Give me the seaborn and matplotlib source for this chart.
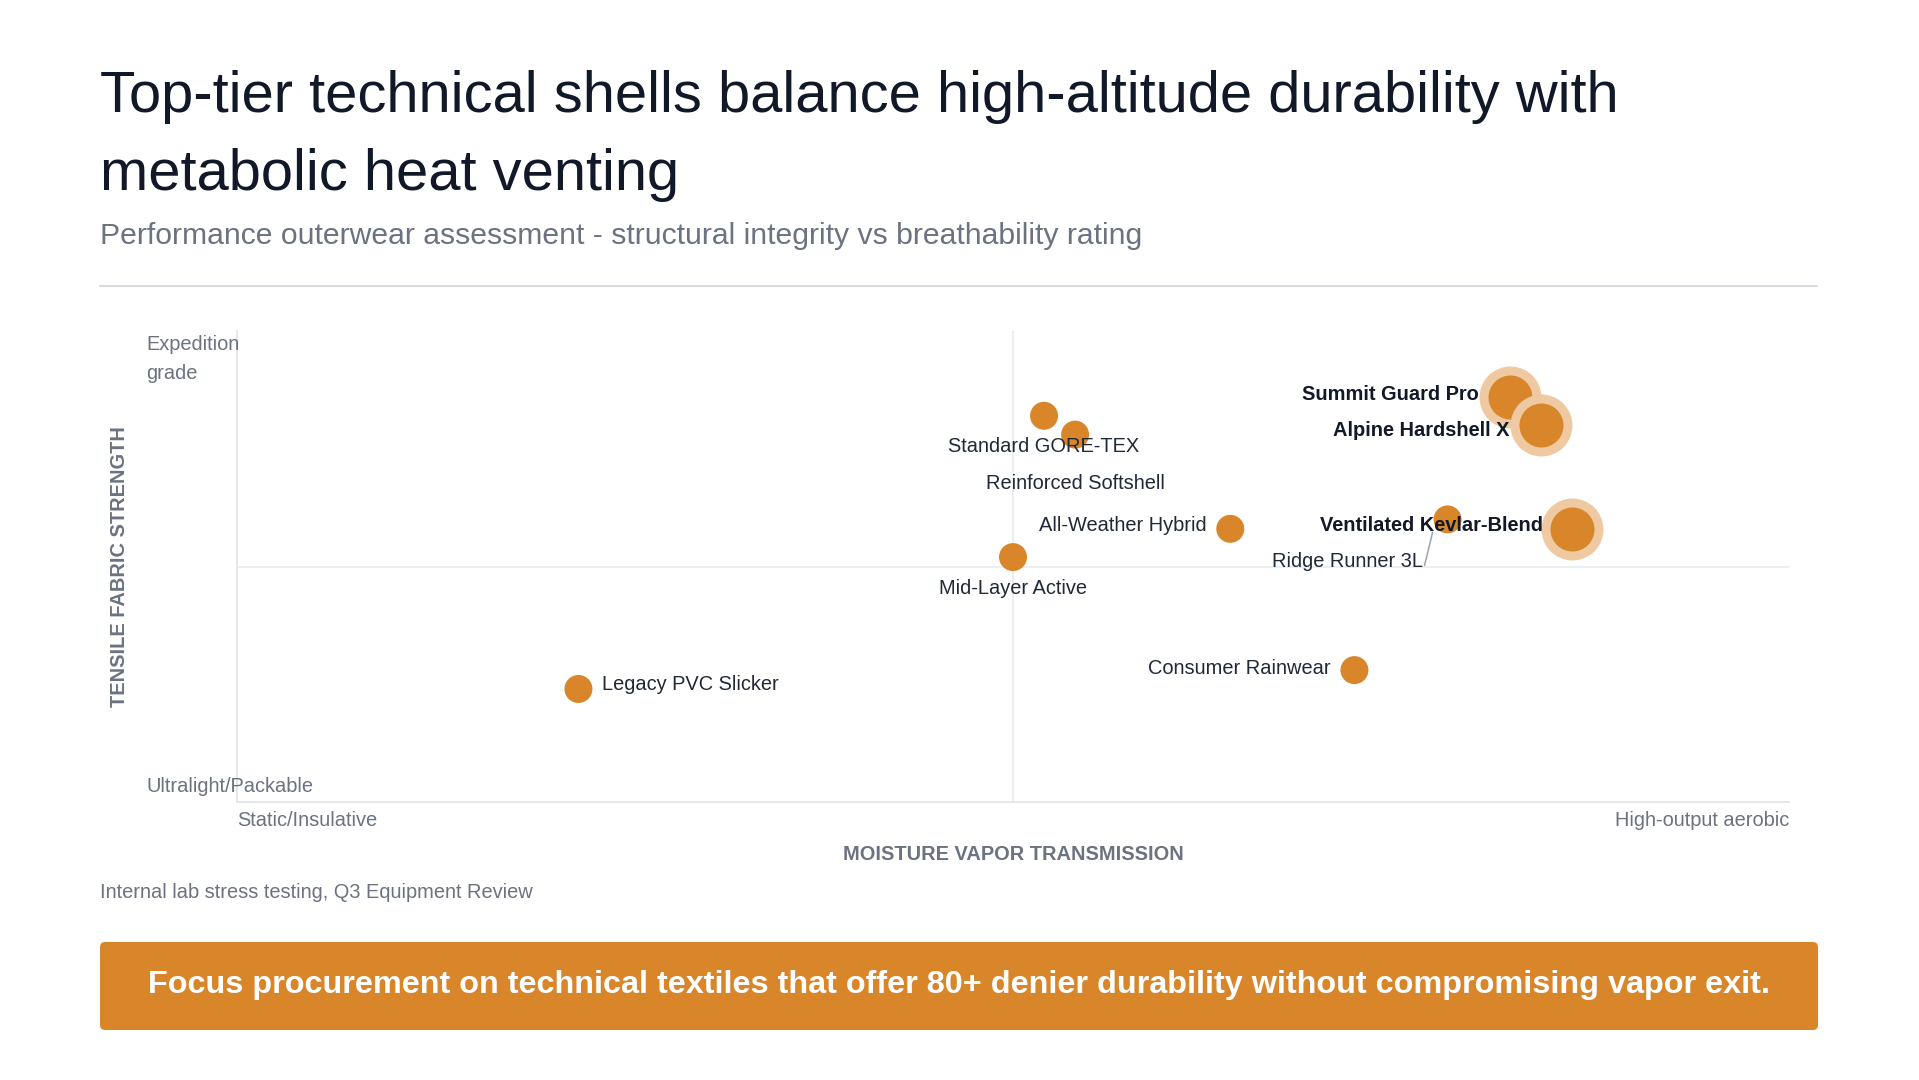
import textwrap
import numpy as np
import pandas as pd
import matplotlib
matplotlib.use("Agg")
import matplotlib.pyplot as plt
import matplotlib.transforms as mtrans
from matplotlib.patches import FancyBboxPatch
from matplotlib.lines import Line2D
from matplotlib.text import OffsetFrom
import seaborn as sns

# ---------------- data ----------------
title = "Top-tier technical shells balance high-altitude durability with metabolic heat venting"
subtitle = "Performance outerwear assessment - structural integrity vs breathability rating"
source = "Internal lab stress testing, Q3 Equipment Review"
takeaway = "Focus procurement on technical textiles that offer 80+ denier durability without compromising vapor exit."
x_title = "MOISTURE VAPOR TRANSMISSION"
y_title = "TENSILE FABRIC STRENGTH"
x_tick_labels = ["Static/Insulative", "High-output aerobic"]
y_tick_labels = ["Ultralight/Packable", "Expedition grade"]

products = ["Summit Guard Pro", "Alpine Hardshell X", "Ventilated Kevlar-Blend",
            "Ridge Runner 3L", "All-Weather Hybrid", "Standard GORE-TEX",
            "Reinforced Softshell", "Mid-Layer Active", "Consumer Rainwear",
            "Legacy PVC Slicker"]
breathability = [82, 84, 86, 78, 64, 52, 54, 50, 72, 22]
strength = [86, 80, 58, 60, 58, 82, 78, 52, 28, 24]
featured = [True, True, True, False, False, False, False, False, False, False]

# ---------------- style ----------------
ORANGE = "#D9862B"
HALO = "#EEC9A1"
DARK = "#111827"
LABEL = "#1F2937"
GRAY = "#6B7280"
GRID = "#ECEEF1"
SPINE = "#E5E7EB"
PX = 0.72  # points per pixel at dpi 100

# label placement: (dx px, dy px, ha)
label_layout = {
    "Summit Guard Pro": (-31, 2, "right"),
    "Alpine Hardshell X": (-31, -5, "right"),
    "Ventilated Kevlar-Blend": (-29, 3, "right"),
    "Ridge Runner 3L": (-25, -42, "right"),
    "All-Weather Hybrid": (-24, 3, "right"),
    "Standard GORE-TEX": (0, -31, "center"),
    "Reinforced Softshell": (0, -49, "center"),
    "Mid-Layer Active": (0, -31, "center"),
    "Consumer Rainwear": (-24, 2, "right"),
    "Legacy PVC Slicker": (24, 4, "left"),
}

df = pd.DataFrame({"product": products, "breathability": breathability,
                   "strength": strength, "featured": featured})
df["tier"] = np.where(df["featured"], "Featured", "Standard")

sns.set_theme(style="white")
plt.rcParams["font.family"] = ["Liberation Sans", "DejaVu Sans"]

W, H = 1919, 1080
fig = plt.figure(figsize=(W / 100, H / 100), dpi=100)
fig.patch.set_facecolor("white")

ax_l, ax_r, ax_t, ax_b = 237, 1789, 331, 802
ax = fig.add_axes([ax_l / W, 1 - ax_b / H, (ax_r - ax_l) / W, (ax_b - ax_t) / H])
ax.set_xlim(0, 100)
ax.set_ylim(0, 100)

# quadrant midlines
ax.axvline(50, color=GRID, lw=1.5, zorder=0)
ax.axhline(50, color=GRID, lw=1.5, zorder=0)

# standard points
std = df[~df["featured"]]
sns.scatterplot(data=std, x="breathability", y="strength", size="tier",
                sizes={"Standard": 406}, color=ORANGE, linewidth=0,
                legend=False, ax=ax, zorder=3)
# featured bubbles with halo, in order
z = 4
for idx in df.index[df["featured"]]:
    one = df.loc[[idx]]
    sns.scatterplot(data=one, x="breathability", y="strength", s=1990,
                    color=HALO, linewidth=0, legend=False, ax=ax, zorder=z)
    sns.scatterplot(data=one, x="breathability", y="strength", s=1004,
                    color=ORANGE, linewidth=0, legend=False, ax=ax, zorder=z + 0.5)
    z += 1

# labels
for _, row in df.iterrows():
    dx, dy, ha = label_layout[row["product"]]
    bold = row["featured"]
    ax.annotate(row["product"], xy=(row["breathability"], row["strength"]),
                xytext=(dx, dy), textcoords="offset pixels", ha=ha, va="center",
                fontsize=14.4, fontweight="bold" if bold else "normal",
                color=DARK if bold else LABEL, zorder=10)
    if row["product"] == "Ridge Runner 3L":
        ax.annotate("", xy=(-15, -13),
                    xycoords=OffsetFrom(ax.transData, (row["breathability"], row["strength"]), unit="pixels"),
                    xytext=(-8, -33), textcoords="offset pixels",
                    arrowprops=dict(arrowstyle="-", color="#9CA3AF", lw=1.1,
                                    shrinkA=0, shrinkB=0), zorder=9)

# axes styling
for s in ["top", "right"]:
    ax.spines[s].set_visible(False)
for s in ["left", "bottom"]:
    ax.spines[s].set_color(SPINE)
    ax.spines[s].set_linewidth(2 * PX)
ax.set_xticks([])
ax.set_yticks([])
ax.set_xlabel("")
ax.set_ylabel("")

# x end labels
ax.annotate(x_tick_labels[0], xy=(0, 0), xycoords="axes fraction", xytext=(0, -18),
            textcoords="offset pixels", ha="left", va="center", fontsize=14.4, color=GRAY)
ax.annotate(x_tick_labels[1], xy=(1, 0), xycoords="axes fraction", xytext=(0, -18),
            textcoords="offset pixels", ha="right", va="center", fontsize=14.4, color=GRAY)
# y end labels
ax.annotate(y_tick_labels[0], xy=(0, 0), xycoords="axes fraction", xytext=(-91, 16),
            textcoords="offset pixels", ha="left", va="center", fontsize=14.4, color=GRAY)
ax.annotate("\n".join(textwrap.wrap(y_tick_labels[1], 11)), xy=(0, 1), xycoords="axes fraction",
            xytext=(-91, -28), textcoords="offset pixels", ha="left", va="center",
            fontsize=14.4, color=GRAY, linespacing=1.7)
# axis titles
ax.annotate(x_title, xy=(0.5, 0), xycoords="axes fraction", xytext=(0, -53),
            textcoords="offset pixels", ha="center", va="center", fontsize=14.4,
            fontweight="bold", color=GRAY)
ax.annotate(y_title, xy=(0, 0.5), xycoords="axes fraction", xytext=(-118, 0),
            textcoords="offset pixels", ha="center", va="center", fontsize=14.4,
            fontweight="bold", color=GRAY, rotation=90)

# title block
lines = textwrap.wrap(title, 64)
for i, ln in enumerate(lines):
    fig.text(100 / W, 1 - (111.7 + 78 * i) / H, ln, ha="left", va="baseline",
             fontsize=41.7, color=DARK)
fig.text(100 / W, 1 - 244 / H, subtitle, ha="left", va="baseline", fontsize=21.7, color=GRAY)
fig.add_artist(Line2D([100 / W, 1817 / W], [1 - 286 / H] * 2, color="#D8DBE0", lw=2 * PX))

# source
fig.text(100 / W, 1 - 893 / H, source, ha="left", va="center", fontsize=14.4, color=GRAY)

# takeaway banner
banner = FancyBboxPatch((100, H - 1030), 1718, 88, boxstyle="round,pad=0,rounding_size=5",
                        transform=mtrans.IdentityTransform(), facecolor=ORANGE,
                        edgecolor="none")
fig.add_artist(banner)
fig.text(958.5 / W, 1 - 985.5 / H, takeaway, ha="center", va="center", fontsize=23.3,
         fontweight="bold", color="white")

fig.savefig("out.png", dpi=100, facecolor="white")
